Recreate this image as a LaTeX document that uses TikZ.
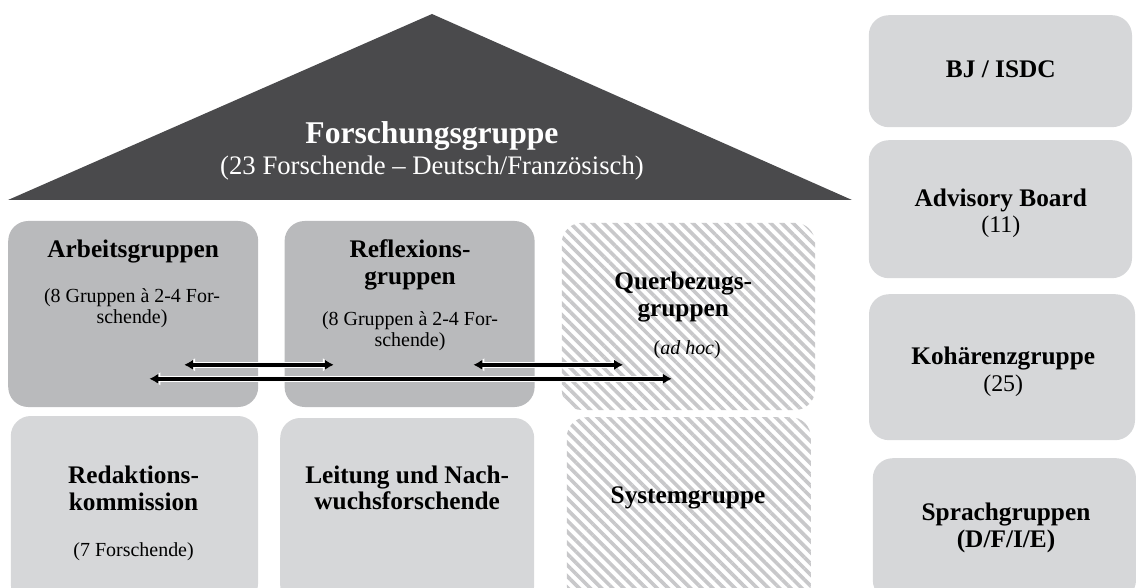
\documentclass[tikz,border=0pt]{standalone}
\usepackage{fontspec}
\setmainfont{Liberation Serif}
\usetikzlibrary{positioning, arrows.meta, patterns.meta}

\definecolor{roofgray}{RGB}{74,74,76}
\definecolor{midbox}{RGB}{185,186,188}
\definecolor{lightbox}{RGB}{214,215,217}
\definecolor{hatchgray}{RGB}{200,200,202}

\begin{document}
\begin{tikzpicture}[every node/.style={align=center, inner sep=0pt},
    grp/.style={rectangle, rounded corners=0.5cm, minimum width=6.25cm, minimum height=4.65cm},
    hatched/.style={pattern={Lines[angle=-45, distance=5.6pt, line width=2.6pt]}, pattern color=hatchgray},
    titletext/.style={font=\fontsize{18}{19}\selectfont\bfseries},
    subtext/.style={font=\fontsize{14.2}{15}\selectfont},
    linkarrow/.style={line width=3pt, black, {Latex[length=6.5pt,width=7.5pt]}-{Latex[length=6.5pt,width=7.5pt]},
        preaction={draw=white, line width=4.6pt, {Latex[length=8pt,width=10pt]}-{Latex[length=8pt,width=10pt]}}}]
    \useasboundingbox (0,0) rectangle (28.4,-14.7);
    % Roof
    \fill[roofgray] (10.8,-0.35) -- (21.3,-5) -- (0.2,-5) -- cycle;
    \node[text=white, font=\fontsize{19}{22.5}\selectfont] (roof) at (10.8,-3.77) {{\fontsize{22.5}{22.5}\selectfont\bfseries Forschungsgruppe}\\(23 Forschende – Deutsch/Französisch)};
    % Upper row
    \node[grp, fill=midbox] (arbeit) at (3.33,-7.85) {};
    \node[grp, fill=midbox] (reflex) at (10.24,-7.85) {};
    \node[grp, hatched, minimum width=6.33cm, minimum height=4.68cm] (querbez) at (17.21,-7.91) {};
    % Lower row
    \node[grp, fill=lightbox, minimum width=6.18cm, minimum height=4.7cm] (redakt) at (3.36,-12.75) {};
    \node[grp, fill=lightbox, minimum width=6.35cm, minimum height=4.68cm] (leitung) at (10.18,-12.79) {};
    \node[grp, hatched, minimum width=6.1cm, minimum height=4.7cm] (system) at (17.22,-12.78) {};
    % Right column
    \node[grp, fill=lightbox, minimum width=6.58cm, minimum height=2.8cm] (bjisdc) at (25.01,-1.78) {};
    \node[grp, fill=lightbox, minimum width=6.58cm, minimum height=3.45cm] (advisory) at (25.01,-5.23) {};
    \node[grp, fill=lightbox, minimum width=6.65cm, minimum height=3.65cm] (kohaerenz) at (25.05,-9.18) {};
    \node[grp, fill=lightbox, minimum width=6.58cm, minimum height=3.55cm] (sprach) at (25.11,-13.23) {};
    % Texts
    \node[titletext] (arbeittitle) at (3.33,-6.3) {Arbeitsgruppen};
    \node[subtext] (arbeitsub) at (3.3,-7.7) {(8 Gruppen à 2-4 For-\\schende)};
    \node[titletext] (reflextitle) at (10.25,-6.62) {Reflexions-\\gruppen};
    \node[subtext] (reflexsub) at (10.25,-8.28) {(8 Gruppen à 2-4 For-\\schende)};
    \node[titletext] (querbeztitle) at (17.08,-7.43) {Querbezugs-\\gruppen};
    \node[subtext] (querbezsub) at (17.18,-8.75) {(\textit{ad hoc})};
    \node[titletext] (redakttitle) at (3.34,-12.2) {Redaktions-\\kommission};
    \node[subtext] (redaktsub) at (3.34,-13.8) {(7 Forschende)};
    \node[titletext] (leitungtitle) at (10.18,-12.2) {Leitung und Nach-\\wuchsforschende};
    \node[titletext] (systemtitle) at (17.2,-12.45) {Systemgruppe};
    \node[titletext] (bjtitle) at (25.02,-1.74) {BJ / ISDC};
    \node[titletext] (advisorytitle) at (25.02,-5.33) {Advisory Board\\{\fontsize{17}{19}\selectfont\mdseries (11)}};
    \node[titletext] (kohaerenztitle) at (25.08,-9.3) {Kohärenzgruppe\\{\fontsize{17}{19}\selectfont\mdseries (25)}};
    \node[titletext] (sprachtitle) at (25.15,-13.2) {Sprachgruppen\\(D/F/I/E)};
    % Arrows
    \coordinate (link1a) at (4.6,-9.12);
    \coordinate (link1b) at (8.35,-9.12);
    \coordinate (link2a) at (3.73,-9.47);
    \coordinate (link2b) at (16.8,-9.47);
    \coordinate (link3a) at (11.83,-9.12);
    \coordinate (link3b) at (15.58,-9.12);
    \draw[linkarrow] (link1a) -- (link1b);
    \draw[linkarrow] (link2a) -- (link2b);
    \draw[linkarrow] (link3a) -- (link3b);
\end{tikzpicture}
\end{document}
